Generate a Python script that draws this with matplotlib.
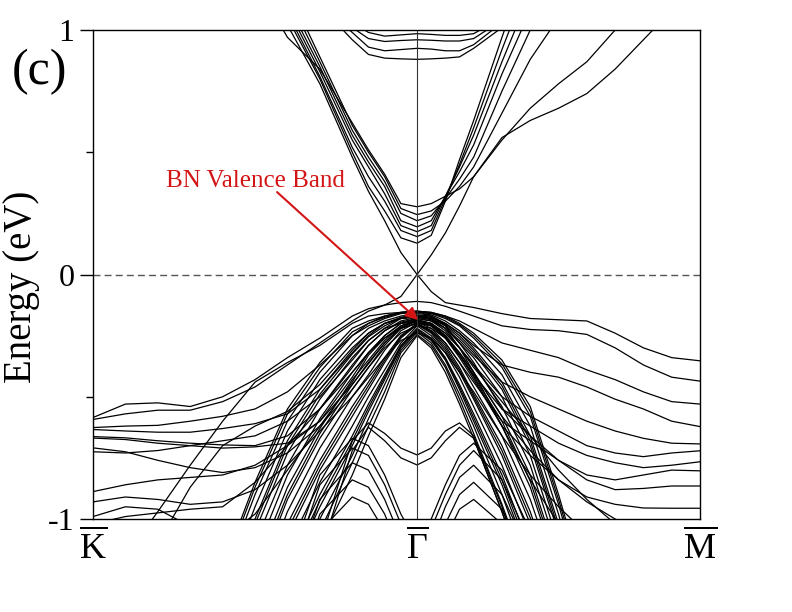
import numpy as np
import matplotlib
matplotlib.use("Agg")
import matplotlib.pyplot as plt

N = np.nan

# ---------------- path / labels ----------------
sym_labels = [r"$\overline{\mathrm{K}}$", r"$\overline{\Gamma}$", r"$\overline{\mathrm{M}}$"]
ytick_vals = [-1, 0, 1]
ytick_labels = ["-1", "0", "1"]
len_KG = 1.0
len_GM = 0.873
frac_KG = [0, .1, .2, .3, .4, .5, .6, .7, .8, .85, .9, .95, 1.0]
frac_GM = [.05, .1, .15, .2, .3, .4, .5, .6, .7, .8, .9, 1.0]

# ---------------- bands (energies in eV at the sampled k points) ----------------
conduction_bands = [
    [N, N, N, N, N, N, 1.05, 0.80, 0.50, 0.36, 0.26, 0.15, 0.128, 0.16, 0.30, 0.47, 0.63, 0.97, 1.30, N, N, N, N, N, N],
    [N, N, N, N, N, N, 1.07, 0.81, 0.52, 0.40, 0.30, 0.18, 0.155, 0.18, 0.31, 0.45, 0.60, 0.92, 1.22, N, N, N, N, N, N],
    [N, N, N, N, N, N, 1.09, 0.83, 0.55, 0.44, 0.33, 0.20, 0.175, 0.20, 0.32, 0.44, 0.57, 0.87, 1.15, N, N, N, N, N, N],
    [N, N, N, N, N, N, 1.11, 0.85, 0.57, 0.46, 0.36, 0.22, 0.195, 0.22, 0.32, 0.42, 0.53, 0.82, 1.08, 1.30, N, N, N, N, N],
    [N, N, N, N, N, N, 1.14, 0.87, 0.59, 0.48, 0.38, 0.25, 0.22, 0.24, 0.31, 0.39, 0.48, 0.75, 1.00, 1.22, N, N, N, N, N],
    [N, N, N, N, N, N, 1.17, 0.89, 0.61, 0.50, 0.40, 0.27, 0.245, 0.26, 0.30, 0.36, 0.44, 0.66, 0.88, 1.05, 1.20, N, N, N, N],
    [N, N, N, N, N, 1.20, 0.97, 0.84, 0.62, 0.51, 0.41, 0.29, 0.277, 0.29, 0.32, 0.35, 0.40, 0.55, 0.68, 0.78, 0.87, 1.00, 1.12, N, N],
]

upper_bands = [
    [N, N, N, N, N, N, N, 1.10, 0.96, 0.90, 0.885, 0.882, 0.88, 0.882, 0.885, 0.89, 0.925, 1.01, 1.10, N, N, N, N, N, N],
    [N, N, N, N, N, N, N, 1.10, 0.99, 0.93, 0.915, 0.92, 0.925, 0.922, 0.915, 0.915, 0.94, 1.03, 1.12, N, N, N, N, N, N],
    [N, N, N, N, N, N, N, 1.10, 1.01, 0.965, 0.953, 0.957, 0.96, 0.958, 0.955, 0.955, 0.965, 1.04, 1.12, N, N, N, N, N, N],
    [N, N, N, N, N, N, N, 1.10, 1.03, 0.99, 0.975, 0.98, 0.985, 0.982, 0.978, 0.978, 0.985, 1.05, 1.12, N, N, N, N, N, N],
]

dirac_bands = [
    [N, N, N, N, N, 1.30, 1.02, 0.78, 0.48, 0.34, 0.22, 0.09, 0.0, 0.08, 0.17, 0.28, 0.40, 0.56, 0.63, 0.68, 0.74, 0.84, 0.96, 1.08, N],
    [-0.585, -0.53, -0.525, -0.54, -0.50, -0.43, -0.34, -0.26, -0.17, -0.14, -0.125, -0.09, 0.0, -0.07, -0.115, -0.125, -0.135, -0.16, -0.18, -0.185, -0.19, -0.24, -0.30, -0.34, -0.353],
]

valence_flat_bands = [
    [-0.593, -0.57, -0.555, -0.555, -0.52, -0.46, -0.37, -0.28, -0.19, -0.15, -0.125, -0.115, -0.11, -0.115, -0.13, -0.15, -0.17, -0.21, -0.225, -0.23, -0.245, -0.30, -0.37, -0.42, -0.436],
    [-0.626, -0.62, -0.617, -0.60, -0.58, -0.55, -0.48, -0.37, -0.25, -0.20, -0.17, -0.155, -0.15, -0.155, -0.17, -0.19, -0.22, -0.28, -0.31, -0.34, -0.39, -0.43, -0.48, -0.52, -0.53],
    [-0.634, -0.64, -0.645, -0.645, -0.63, -0.61, -0.57, -0.47, -0.32, -0.25, -0.20, -0.18, -0.17, -0.175, -0.20, -0.24, -0.29, -0.37, -0.40, -0.42, -0.46, -0.51, -0.55, -0.60, -0.622],
    [-0.663, -0.668, -0.68, -0.69, -0.697, -0.70, -0.66, -0.55, -0.38, -0.29, -0.23, -0.195, -0.18, -0.19, -0.22, -0.27, -0.33, -0.44, -0.50, -0.55, -0.60, -0.64, -0.67, -0.69, -0.693],
    [-0.669, -0.675, -0.69, -0.70, -0.71, -0.705, -0.69, -0.60, -0.42, -0.32, -0.25, -0.20, -0.185, -0.20, -0.24, -0.30, -0.38, -0.52, -0.66, -0.80, -0.92, -1.02, -1.10, N, N],
    [-0.709, -0.725, -0.76, -0.79, -0.81, -0.79, -0.73, -0.62, -0.44, -0.33, -0.26, -0.21, -0.19, -0.20, -0.24, -0.30, -0.37, -0.50, -0.58, -0.64, -0.70, -0.73, -0.745, -0.73, -0.721],
    [-0.725, -0.73, -0.72, -0.70, -0.68, -0.66, -0.60, -0.50, -0.35, -0.27, -0.22, -0.20, -0.195, -0.21, -0.26, -0.33, -0.41, -0.55, -0.62, -0.69, -0.74, -0.77, -0.79, -0.78, -0.766],
    [-0.888, -0.86, -0.84, -0.83, -0.82, -0.78, -0.70, -0.60, -0.45, -0.36, -0.28, -0.22, -0.20, -0.23, -0.28, -0.36, -0.44, -0.60, -0.68, -0.76, -0.82, -0.84, -0.82, -0.80, -0.803],
    [-0.99, -0.95, -0.96, -1.03, -1.08, -0.98, -0.80, -0.62, -0.47, -0.38, -0.30, -0.24, -0.21, -0.22, -0.26, -0.33, -0.42, -0.62, -0.84, -1.02, N, N, N, N, N],
    [N, -1.15, -0.97, -0.78, -0.60, -0.44, -0.36, -0.29, -0.20, -0.17, -0.16, -0.155, -0.15, -0.17, -0.21, -0.28, -0.36, -0.55, -0.66, -0.76, -0.84, -0.88, -0.875, -0.865, -0.865],
    [N, N, -1.10, -0.87, -0.70, -0.62, -0.56, -0.45, -0.30, -0.24, -0.20, -0.18, -0.175, -0.18, -0.22, -0.30, -0.40, -0.62, -0.74, -0.84, -0.91, -0.94, -0.955, -0.956, -0.956],
    [-1.02, -0.99, -0.975, -0.96, -0.95, -0.85, -0.70, -0.55, -0.40, -0.32, -0.26, -0.22, -0.20, -0.21, -0.25, -0.32, -0.40, -0.58, -0.72, -0.84, -0.93, -1.00, -1.05, -1.10, -1.12],
    [-0.93, -0.91, -0.92, -0.94, -0.93, -0.88, -0.78, -0.64, -0.50, -0.42, -0.34, -0.27, -0.24, -0.26, -0.32, -0.40, -0.48, -0.66, -0.82, -0.95, -1.06, N, N, N, N],
]

valence_steep_bands = [
    [N, N, N, N, -1.20, -0.85, -0.55, -0.36, -0.22, -0.19, -0.17, -0.155, -0.15, -0.155, -0.17, -0.20, -0.24, -0.35, -0.54, -0.90, -1.30, N, N, N, N],
    [N, N, N, N, -1.22, -0.87, -0.57, -0.38, -0.235, -0.20, -0.175, -0.158, -0.152, -0.157, -0.175, -0.205, -0.25, -0.365, -0.56, -0.92, -1.32, N, N, N, N],
    [N, N, N, N, -1.25, -0.90, -0.60, -0.40, -0.25, -0.21, -0.18, -0.16, -0.155, -0.16, -0.18, -0.21, -0.26, -0.38, -0.58, -0.94, -1.35, N, N, N, N],
    [N, N, N, N, -1.30, -0.95, -0.64, -0.43, -0.28, -0.22, -0.19, -0.17, -0.16, -0.165, -0.19, -0.23, -0.28, -0.41, -0.62, -0.98, -1.40, N, N, N, N],
    [N, N, N, N, -1.36, -1.00, -0.68, -0.47, -0.31, -0.24, -0.20, -0.175, -0.165, -0.17, -0.20, -0.24, -0.30, -0.44, -0.66, -1.02, N, N, N, N, N],
    [N, N, N, N, -1.39, -1.02, -0.70, -0.49, -0.325, -0.255, -0.21, -0.178, -0.168, -0.175, -0.205, -0.25, -0.31, -0.455, -0.68, -1.04, N, N, N, N, N],
    [N, N, N, N, -1.42, -1.05, -0.73, -0.51, -0.34, -0.27, -0.22, -0.18, -0.17, -0.18, -0.21, -0.26, -0.32, -0.47, -0.70, -1.06, N, N, N, N, N],
    [N, N, N, N, -1.48, -1.10, -0.78, -0.55, -0.37, -0.29, -0.23, -0.19, -0.175, -0.185, -0.22, -0.28, -0.34, -0.50, -0.74, -1.10, N, N, N, N, N],
    [N, N, N, N, -1.55, -1.15, -0.82, -0.59, -0.40, -0.32, -0.25, -0.20, -0.18, -0.19, -0.23, -0.30, -0.37, -0.54, -0.78, -1.14, N, N, N, N, N],
    [N, N, N, N, -1.60, -1.20, -0.87, -0.63, -0.43, -0.35, -0.27, -0.21, -0.185, -0.20, -0.25, -0.32, -0.40, -0.58, -0.82, -1.18, N, N, N, N, N],
    [N, N, N, N, N, -1.23, -0.90, -0.65, -0.45, -0.365, -0.28, -0.215, -0.188, -0.205, -0.255, -0.33, -0.415, -0.60, -0.845, -1.20, N, N, N, N, N],
    [N, N, N, N, N, -1.26, -0.92, -0.67, -0.47, -0.38, -0.29, -0.22, -0.19, -0.21, -0.26, -0.34, -0.43, -0.62, -0.87, -1.22, N, N, N, N, N],
    [N, N, N, N, N, -1.32, -0.97, -0.71, -0.50, -0.41, -0.31, -0.23, -0.195, -0.22, -0.28, -0.36, -0.46, -0.66, -0.92, -1.26, N, N, N, N, N],
    [N, N, N, N, N, -1.38, -1.02, -0.76, -0.54, -0.44, -0.34, -0.25, -0.20, -0.23, -0.29, -0.38, -0.49, -0.70, -0.97, -1.32, N, N, N, N, N],
    [N, N, N, N, N, -1.41, -1.045, -0.78, -0.56, -0.455, -0.35, -0.255, -0.203, -0.235, -0.30, -0.39, -0.50, -0.72, -0.995, -1.34, N, N, N, N, N],
    [N, N, N, N, N, -1.44, -1.07, -0.80, -0.58, -0.47, -0.36, -0.26, -0.205, -0.24, -0.31, -0.40, -0.51, -0.74, -1.02, N, N, N, N, N, N],
    [N, N, N, N, N, N, -1.12, -0.85, -0.62, -0.50, -0.39, -0.28, -0.21, -0.25, -0.32, -0.42, -0.54, -0.78, -1.07, N, N, N, N, N, N],
    [N, N, N, N, N, N, -1.18, -0.90, -0.66, -0.53, -0.41, -0.29, -0.22, -0.26, -0.34, -0.45, -0.57, -0.82, -1.12, N, N, N, N, N, N],
    [N, N, N, N, N, N, -1.21, -0.925, -0.68, -0.545, -0.42, -0.295, -0.225, -0.265, -0.345, -0.46, -0.585, -0.84, -1.145, N, N, N, N, N, N],
    [N, N, N, N, N, N, -1.24, -0.95, -0.70, -0.56, -0.43, -0.30, -0.23, -0.27, -0.35, -0.47, -0.60, -0.86, -1.17, N, N, N, N, N, N],
    [N, N, N, N, N, N, -1.30, -1.00, -0.74, -0.59, -0.45, -0.31, -0.235, -0.28, -0.37, -0.49, -0.62, -0.90, -1.22, N, N, N, N, N, N],
    [N, N, N, N, N, N, -1.35, -1.05, -0.77, -0.62, -0.48, -0.32, -0.245, -0.29, -0.38, -0.51, -0.65, -0.94, -1.26, N, N, N, N, N, N],
    [N, N, N, N, N, N, N, -1.10, -0.82, -0.66, -0.51, -0.34, -0.25, -0.30, -0.40, -0.53, -0.67, -0.97, -1.30, N, N, N, N, N, N],
]

valence_deep_bands = [
    [N, N, N, N, N, N, N, -1.10, -0.68, -0.607, -0.65, -0.71, -0.738, -0.71, -0.64, -0.607, -0.66, -0.95, -1.30, N, N, N, N, N, N],
    [N, N, N, N, N, N, N, -1.15, -0.72, -0.625, -0.68, -0.75, -0.779, -0.75, -0.68, -0.625, -0.67, -0.97, -1.30, N, N, N, N, N, N],
    [N, N, N, N, N, N, -1.20, -0.82, -0.67, -0.70, -0.82, -0.98, -1.10, -1.00, -0.86, -0.74, -0.69, -0.80, -1.05, N, N, N, N, N, N],
    [N, N, N, N, N, N, -1.25, -0.86, -0.71, -0.74, -0.86, -1.02, -1.14, -1.04, -0.90, -0.78, -0.72, -0.84, -1.10, N, N, N, N, N, N],
    [N, N, N, N, N, N, -1.30, -0.92, -0.77, -0.80, -0.92, -1.08, -1.20, -1.10, -0.95, -0.83, -0.78, -0.90, -1.15, N, N, N, N, N, N],
    [N, N, N, N, N, N, -1.35, -0.98, -0.84, -0.87, -0.98, -1.15, -1.25, -1.17, -1.02, -0.90, -0.85, -0.96, -1.20, N, N, N, N, N, N],
    [N, N, N, N, N, N, -1.40, -1.05, -0.91, -0.94, -1.05, -1.20, -1.30, -1.20, -1.08, -0.96, -0.92, -1.02, -1.25, N, N, N, N, N, N],
]

annotation_text = "BN Valence Band"
panel_label = "(c)"
y_label = "Energy (eV)"

# ---------------- style ----------------
plt.rcParams['font.family'] = ['Liberation Serif', 'DejaVu Serif']
plt.rcParams['mathtext.fontset'] = 'custom'
plt.rcParams['mathtext.rm'] = 'Liberation Serif'
plt.rcParams['mathtext.it'] = 'Liberation Serif:italic'
plt.rcParams['mathtext.bf'] = 'Liberation Serif:bold'

red = '#d41515'
kM = len_KG + len_GM
k = np.concatenate([np.array(frac_KG) * len_KG, len_KG + np.array(frac_GM) * len_GM])

fig = plt.figure(figsize=(7.92, 6.12), dpi=100)
ax = fig.add_axes([93 / 792, 93 / 612, 607 / 792, 489 / 612])

for group in (conduction_bands, upper_bands, dirac_bands, valence_flat_bands,
              valence_steep_bands, valence_deep_bands):
    for band in group:
        ax.plot(k, band, color='black', lw=0.9, solid_joinstyle='round')

ax.axvline(len_KG, color='#333333', lw=0.8)
ax.axhline(0, color='#555555', lw=1.0, dashes=(5, 3))

ax.set_xlim(0, kM)
ax.set_ylim(-1, 1)
ax.set_yticks(ytick_vals)
ax.set_yticklabels(ytick_labels, fontsize=23)
ax.set_yticks([-0.5, 0.5], minor=True)
ax.tick_params(axis='y', which='major', direction='out', length=9.5, width=1.0, pad=4)
ax.tick_params(axis='y', which='minor', direction='out', length=5, width=1.0)
ax.set_xticks([0, len_KG, kM])
ax.set_xticklabels(sym_labels, fontsize=26)
ax.tick_params(axis='x', length=0, pad=7)
for s in ax.spines.values():
    s.set_linewidth(1.0)

ax.text(0.5, 0.382, annotation_text, color=red, fontsize=18, ha='center', va='center')
ax.annotate('', xy=(1.003, -0.186), xytext=(0.568, 0.337),
            arrowprops=dict(arrowstyle='-|>', color=red, lw=1.5, mutation_scale=18,
                            shrinkA=0, shrinkB=0))

fig.text(22 / 792, 1 - 287 / 612, y_label, rotation=90, va='center', ha='center', fontsize=28)
fig.text(12 / 792, 1 - 72 / 612, panel_label, va='center', ha='left', fontsize=36)

fig.savefig('out.png', dpi=100)
